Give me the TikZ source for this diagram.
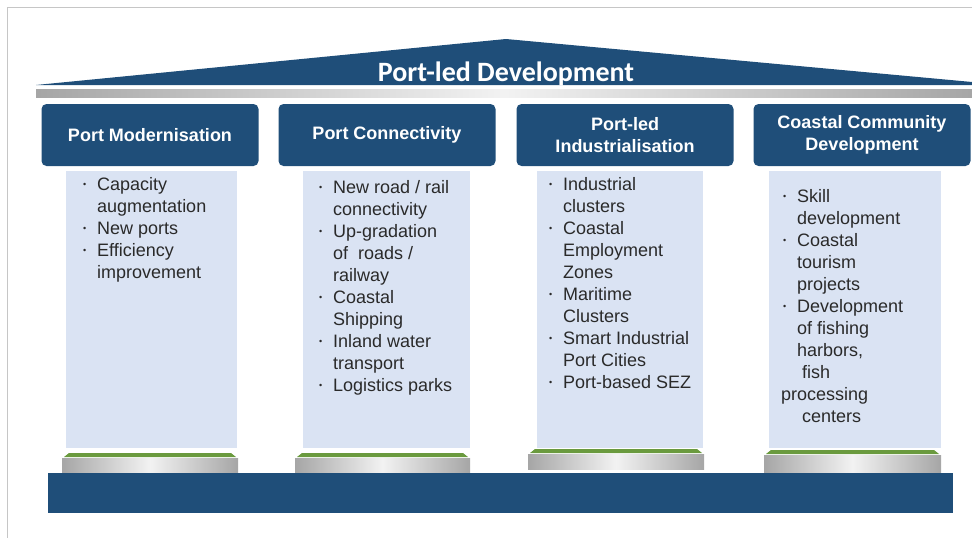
\documentclass[tikz,border=0pt]{standalone}
\usepackage{fontspec}
\newfontfamily\arialf{Liberation Sans}
\newfontfamily\calibf{Carlito}
\definecolor{portblue}{HTML}{1F4E79}
\definecolor{panelblue}{HTML}{DAE3F3}
\definecolor{rimgreen}{HTML}{6A9A3E}
\definecolor{txtgray}{HTML}{2A2A2A}
\newcommand\bul{\makebox[0pt][r]{\raisebox{2.5pt}{\fontsize{9}{9}\selectfont\textbullet}\hspace{11pt}}}
\begin{document}
\begin{tikzpicture}[x=1pt,y=-1pt,
  hdr/.style={fill=portblue,rounded corners=5pt,minimum width=217pt,minimum height=62pt,align=center,inner sep=0pt,text=white,font=\arialf\bfseries\fontsize{18}{22}\selectfont},
  panel/.style={fill=panelblue,minimum height=277pt,inner sep=0pt},
  ptext/.style={anchor=north west,align=left,inner sep=0pt,text=txtgray,font=\arialf\fontsize{18}{22}\selectfont},
  metal/.style={left color=gray!70,right color=gray!70,middle color=gray!10}]
\useasboundingbox (0,0) rectangle (972,538);
% frame
\draw[gray!45,line width=0.8pt] (7,538) -- (7,7) -- (972,7);
% roof and beam
\fill[portblue] (36,85) -- (506,39) -- (972,82) -- (972,85) -- cycle;
\node[anchor=base,text=white,font=\calibf\bfseries\fontsize{28}{28}\selectfont] (title) at (506,81) {Port-led Development};
\shade[metal] (36,89) rectangle (972,97);
% pillar heads
\node[hdr] (hmod) at (150,135) {Port Modernisation};
\node[hdr] (hcon) at (387,135) {Port Connectivity};
\node[hdr] (hind) at (625,135) {Port-led\\Industrialisation};
\node[hdr] (hcom) at (862,135) {Coastal Community\\Development};
% pillar bodies
\node[panel,minimum width=171pt] (pmod) at (151.5,309.5) {};
\node[panel,minimum width=167pt] (pcon) at (386.5,309.5) {};
\node[panel,minimum width=166pt] (pind) at (620,309.5) {};
\node[panel,minimum width=172pt] (pcom) at (855,309.5) {};
% pillar feet
\foreach \xa/\xb/\yt/\yb in {62/238/453/473,295/470/453/473,528/704/449/469,764/941/450/472}{
  \fill[rimgreen] (\xa+2,\yt+4) -- (\xa+7,\yt) -- (\xb-7,\yt) -- (\xb-2,\yt+4) -- cycle;
  \shade[metal] (\xa,\yt+5) rectangle (\xb,\yb);
}
% base
\fill[portblue] (48,473) rectangle (953,513);
% pillar texts
\node[ptext] (tmod) at (97,177) {\bul Capacity\\augmentation\\\bul New ports\\\bul Efficiency\\improvement};
\node[ptext] (tcon) at (333,180) {\bul New road / rail\\connectivity\\\bul Up-gradation\\of\ \ roads /\\railway\\\bul Coastal\\Shipping\\\bul Inland water\\transport\\\bul Logistics parks};
\node[ptext] (tind) at (563,177) {\bul Industrial\\clusters\\\bul Coastal\\Employment\\Zones\\\bul Maritime\\Clusters\\\bul Smart Industrial\\Port Cities\\\bul Port-based SEZ};
\node[ptext] (tcom) at (797,189) {\bul Skill\\development\\\bul Coastal\\tourism\\projects\\\bul Development\\of fishing\\harbors,\\\hspace*{5pt}fish\\\hspace*{-16pt}processing\\\hspace*{5pt}centers};
\end{tikzpicture}
\end{document}
